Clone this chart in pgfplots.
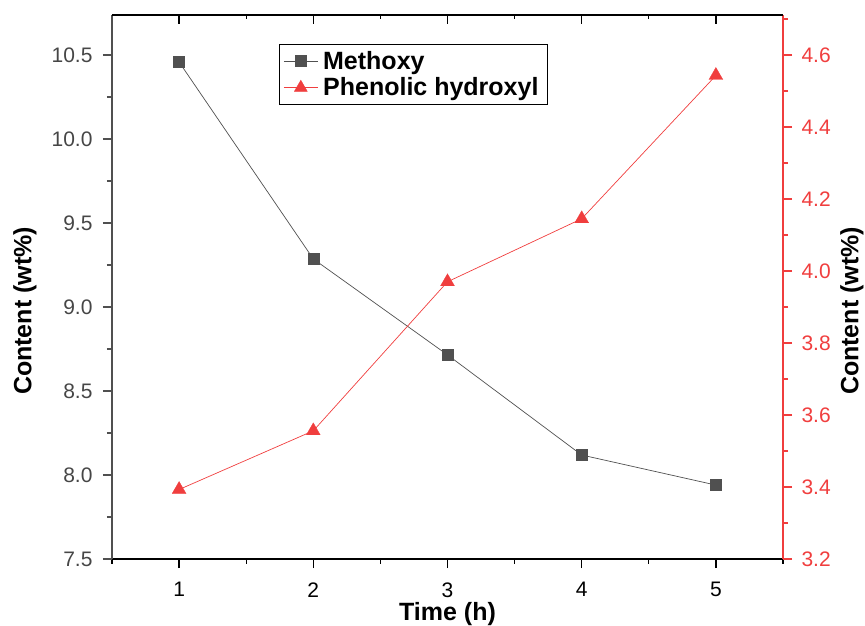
\documentclass[border=0pt]{standalone}
\usepackage{fontspec}
\setmainfont{Liberation Sans}
\usepackage{pgfplots}
\pgfplotsset{compat=1.18}
\definecolor{myred}{RGB}{240,62,62}
\definecolor{mygray}{RGB}{80,80,80}
\definecolor{labgray}{RGB}{70,70,70}
\begin{document}
\begin{tikzpicture}
\pgfplotsset{
  base/.style={
    scale only axis, width=671pt, height=544pt,
    at={(0,0)}, anchor=south west,
    xmin=0.5, xmax=5.5, clip=false,
    /pgf/number format/assume math mode=true,
    tick align=outside,
    major tick length=9pt, minor tick length=5pt,
    every tick/.style={line width=1.3pt},
    every minor tick/.style={line width=1.3pt},
    ticklabel style={font=\fontsize{21}{25}\selectfont},
    label style={font=\bfseries\fontsize{25}{30}\selectfont},
  }
}
\begin{axis}[base,
  axis x line*=bottom, axis y line*=left,
  ymin=7.5, ymax=10.738,
  xtick={1,2,3,4,5}, minor xtick={0.5,1.5,2.5,3.5,4.5,5.5},
  ytick={7.5,8.0,8.5,9.0,9.5,10.0,10.5},
  minor ytick={7.75,8.25,8.75,9.25,9.75,10.25},
  yticklabel style={text=labgray, xshift=-7pt, /pgf/number format/.cd,fixed,fixed zerofill,precision=1},
  xticklabel style={yshift=-11pt},
  x axis line style={black, line width=1.8pt},
  y axis line style={mygray, line width=1.8pt},
  xtick style={black}, ytick style={mygray},
  xlabel={Time (h)},
  xlabel style={at={(axis description cs:0.5,-0.113)}, anchor=base},
  ylabel={Content (wt\%)},
  ylabel style={at={(axis description cs:-0.1297,0.456)}, anchor=center},
  legend style={at={(axis description cs:0.249,0.947)}, anchor=north west,
    draw=black, line width=0.8pt, inner xsep=4pt, inner ysep=5pt,
    font=\bfseries\fontsize{25}{30}\selectfont, row sep=3pt,
    nodes={inner xsep=5pt},
    legend cell align=left},
  legend image code/.code={
    \draw[#1, mark repeat=2, mark phase=2] plot coordinates {(0pt,0pt) (17pt,0pt) (34pt,0pt)};
  },
]
\addplot[mygray, line width=0.7pt, mark=square*, mark size=5.5pt,
  mark options={fill=mygray, draw=mygray, line width=0.3pt}]
  coordinates {(1,10.458) (2,9.286) (3,8.715) (4,8.119) (5,7.94)};
\addlegendentry{Methoxy}
\addlegendimage{myred, line width=0.7pt, mark=triangle*, mark size=7.5pt,
  mark options={fill=myred, draw=myred, line width=0.3pt}}
\addlegendentry{Phenolic hydroxyl\hspace{14pt}}
\end{axis}
\begin{axis}[base,
  axis x line=none, axis y line*=right,
  ymin=3.2, ymax=4.711,
  ytick={3.2,3.4,3.6,3.8,4.0,4.2,4.4,4.6},
  minor ytick={3.3,3.5,3.7,3.9,4.1,4.3,4.5,4.7},
  yticklabel style={text=myred, xshift=6pt, /pgf/number format/.cd,fixed,fixed zerofill,precision=1},
  y axis line style={myred, line width=1.8pt},
  ytick style={myred},
  ylabel={Content (wt\%)},
  ylabel style={at={(axis description cs:1.1028,0.456)}, anchor=center, rotate=0},
]
\addplot[myred, line width=0.7pt, mark=triangle*, mark size=8pt,
  mark options={fill=myred, draw=myred, line width=0.3pt}]
  coordinates {(1,3.393) (2,3.556) (3,3.97) (4,4.145) (5,4.543)};
\end{axis}
\begin{axis}[base,
  axis x line*=top, axis y line=none,
  ymin=0, ymax=1, tick align=inside,
  xtick={1,2,3,4,5}, minor xtick={1.5,2.5,3.5,4.5},
  xticklabels={}, major tick length=9pt, minor tick length=4pt,
  x axis line style={black, line width=1.8pt},
  xtick style={black},
]
\end{axis}
\pgfresetboundingbox
\path (-112pt,-67pt) rectangle (753pt,559pt);
\end{tikzpicture}
\end{document}
